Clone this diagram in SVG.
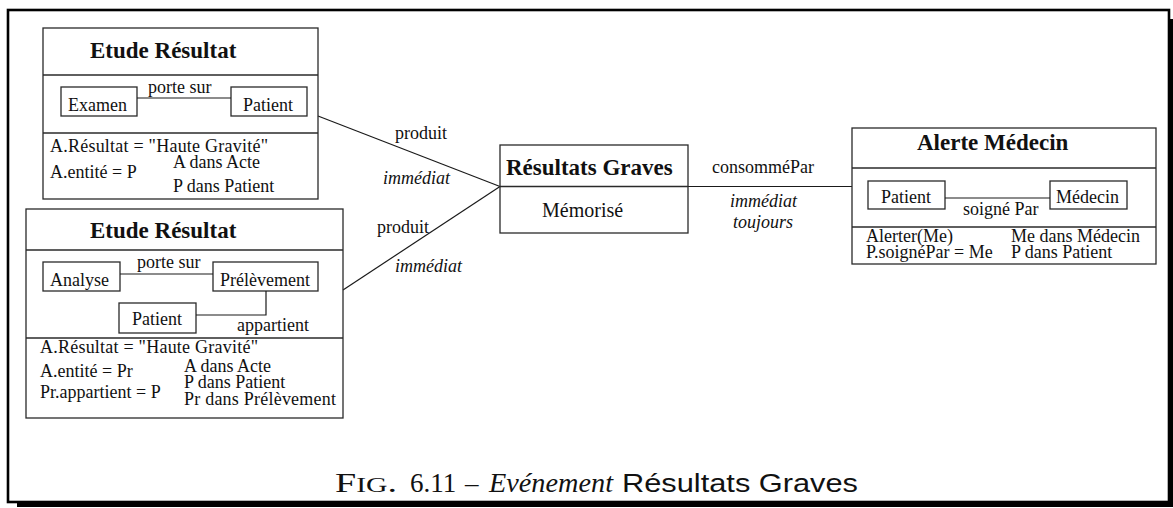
<svg xmlns="http://www.w3.org/2000/svg" width="1173" height="508" viewBox="0 0 1173 508">
  <style>
    .box { fill: none; stroke: #2a2a2a; stroke-width: 1.3; }
    .ln { fill: none; stroke: #1a1a1a; stroke-width: 1.2; }
    .t { font-family: "Liberation Serif", "Times New Roman", serif; font-size: 18px; fill: #111; }
    .ti { font-family: "Liberation Serif", "Times New Roman", serif; font-size: 18px; font-style: italic; fill: #111; }
    .h { font-family: "Liberation Serif", "Times New Roman", serif; font-size: 23px; font-weight: bold; fill: #111; }
    .cap { font-family: "Liberation Serif", "Times New Roman", serif; font-size: 27px; fill: #111; }
    .caps { font-family: "Liberation Sans", Arial, sans-serif; font-size: 26px; fill: #111; }
  </style>

  <!-- framed figure with drop shadow -->
  <g id="frame">
    <rect x="8" y="10" width="1161" height="492" fill="#fff" stroke="#000" stroke-width="2.6"/>
    <rect x="17" y="502" width="1156" height="5" fill="#000"/>
    <rect x="1169" y="19" width="4" height="488" fill="#000"/>
  </g>

  <!-- connectors between events -->
  <g id="connectors">
    <line class="ln" x1="318" y1="116" x2="500" y2="186.5"/>
    <line class="ln" x1="343" y1="290" x2="500" y2="186.5"/>
    <line class="ln" x1="688" y1="186.5" x2="852" y2="186.5"/>
    <text class="t" x="395" y="139">produit</text>
    <text class="ti" x="383" y="184">immédiat</text>
    <text class="t" x="377" y="233">produit</text>
    <text class="ti" x="395" y="272">immédiat</text>
    <text class="t" x="712" y="173">consomméPar</text>
    <text class="ti" x="730" y="207">immédiat</text>
    <text class="ti" x="733" y="228">toujours</text>
  </g>

  <!-- Etude Résultat (Examen / Patient) -->
  <g id="etude-examen">
    <rect class="box" x="43" y="28" width="275" height="171"/>
    <line class="box" x1="43" y1="75" x2="318" y2="75"/>
    <line class="box" x1="43" y1="133" x2="318" y2="133"/>
    <text class="h" x="90" y="58">Etude Résultat</text>
    <rect class="box" x="61" y="87" width="76" height="29"/>
    <text class="t" x="68" y="111">Examen</text>
    <rect class="box" x="231" y="87" width="76" height="29"/>
    <text class="t" x="243" y="111">Patient</text>
    <line class="ln" x1="137" y1="98" x2="231" y2="98"/>
    <text class="t" x="148" y="93">porte sur</text>
    <text class="t" x="50" y="152" textLength="218">A.Résultat = "Haute Gravité"</text>
    <text class="t" x="50" y="178">A.entité = P</text>
    <text class="t" x="173" y="168">A dans Acte</text>
    <text class="t" x="173" y="192">P dans Patient</text>
  </g>

  <!-- Etude Résultat (Analyse / Prélèvement / Patient) -->
  <g id="etude-analyse">
    <rect class="box" x="26" y="209" width="317" height="209"/>
    <line class="box" x1="26" y1="250" x2="343" y2="250"/>
    <line class="box" x1="26" y1="338" x2="343" y2="338"/>
    <text class="h" x="90" y="238">Etude Résultat</text>
    <rect class="box" x="43" y="262" width="77" height="29"/>
    <text class="t" x="50" y="286">Analyse</text>
    <rect class="box" x="213" y="262" width="105" height="29"/>
    <text class="t" x="220" y="286">Prélèvement</text>
    <line class="ln" x1="120" y1="274" x2="213" y2="274"/>
    <text class="t" x="137" y="268">porte sur</text>
    <rect class="box" x="119" y="303" width="77" height="30"/>
    <text class="t" x="132" y="325">Patient</text>
    <polyline class="ln" points="266,291 266,315 196,315"/>
    <text class="t" x="237" y="331">appartient</text>
    <text class="t" x="40" y="353" textLength="218">A.Résultat = "Haute Gravité"</text>
    <text class="t" x="40" y="377">A.entité = Pr</text>
    <text class="t" x="40" y="398">Pr.appartient = P</text>
    <text class="t" x="184" y="372">A dans Acte</text>
    <text class="t" x="184" y="388">P dans Patient</text>
    <text class="t" x="184" y="405" textLength="152">Pr dans Prélèvement</text>
  </g>

  <!-- Résultats Graves event -->
  <g id="resultats-graves">
    <rect class="box" x="500" y="145" width="188" height="88"/>
    <line class="box" x1="500" y1="186.5" x2="688" y2="186.5"/>
    <text class="h" x="506" y="175">Résultats Graves</text>
    <text class="t" x="542" y="217" style="font-size:20px">Mémorisé</text>
  </g>

  <!-- Alerte Médecin -->
  <g id="alerte-medecin">
    <rect class="box" x="852" y="128" width="304" height="136"/>
    <line class="box" x1="852" y1="168" x2="1156" y2="168"/>
    <line class="box" x1="852" y1="227" x2="1156" y2="227"/>
    <text class="h" x="917" y="150">Alerte Médecin</text>
    <rect class="box" x="868" y="181" width="77" height="28"/>
    <text class="t" x="881" y="203">Patient</text>
    <rect class="box" x="1050" y="181" width="77" height="28"/>
    <text class="t" x="1056" y="203">Médecin</text>
    <line class="ln" x1="945" y1="198" x2="1050" y2="198"/>
    <text class="t" x="963" y="215">soigné Par</text>
    <text class="t" x="866" y="242">Alerter(Me)</text>
    <text class="t" x="866" y="258">P.soignéPar = Me</text>
    <text class="t" x="1011" y="242">Me dans Médecin</text>
    <text class="t" x="1011" y="258">P dans Patient</text>
  </g>

  <!-- caption -->
  <g id="caption">
    <text class="cap" x="335" y="492" textLength="62" lengthAdjust="spacingAndGlyphs">F<tspan style="font-size:21px">IG</tspan>.</text>
    <text class="cap" x="410" y="492">6.11</text>
    <text class="cap" x="465" y="492">–</text>
    <text class="cap" x="489" y="492" font-style="italic" textLength="124" lengthAdjust="spacingAndGlyphs">Evénement</text>
    <text class="caps" x="622" y="492" textLength="236" lengthAdjust="spacingAndGlyphs">Résultats Graves</text>
  </g>
</svg>
